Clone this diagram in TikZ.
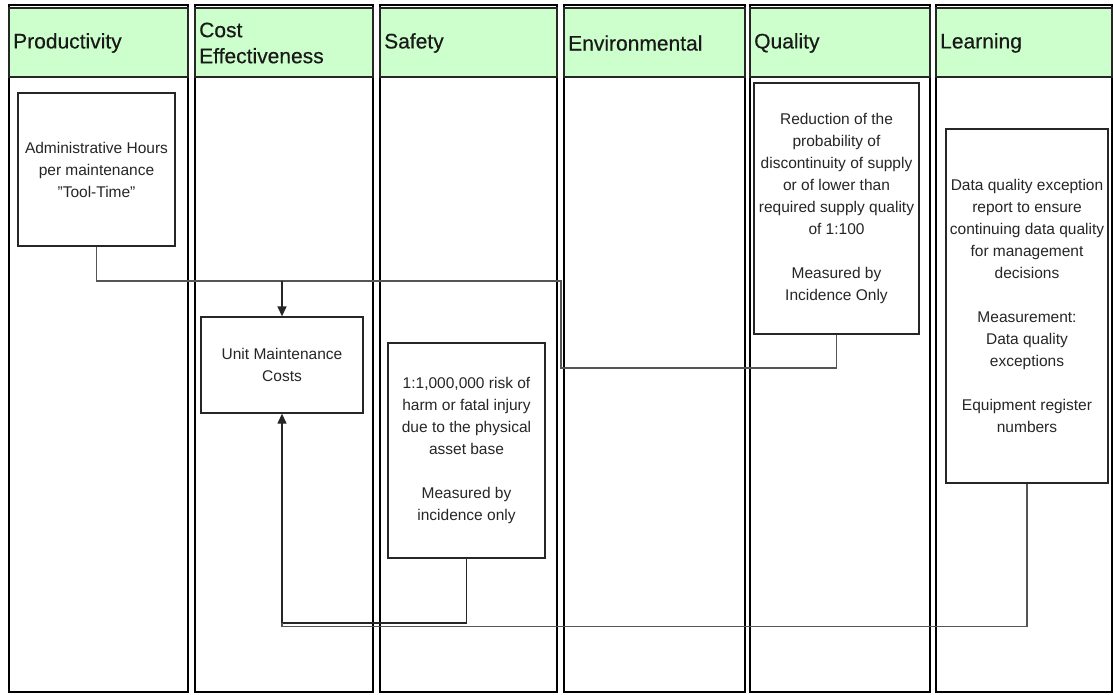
\documentclass[tikz,border=0pt]{standalone}
\usepackage{fontspec}
\setmainfont{Liberation Sans}[Ligatures=ResetAll]
\usetikzlibrary{arrows.meta}
\definecolor{hdrgreen}{RGB}{204,255,204}
\definecolor{linegray}{RGB}{85,85,85}
\begin{document}
\begin{tikzpicture}[x=1pt,y=-1pt,
  colbox/.style={draw=black, line width=1.2pt, inner sep=0pt},
  hdrbox/.style={draw=black!85, fill=hdrgreen, line width=1.8pt, inner sep=0pt},
  hdrtext/.style={anchor=west, align=left, inner sep=0pt, text=black!90,
    font=\fontsize{21}{26}\selectfont\addfontfeature{FakeBold=0.4}},
  itembox/.style={draw=black!85, line width=1.3pt, inner sep=0pt, align=center,
    text=black!85, font=\fontsize{15.5}{22}\selectfont},
  conn/.style={draw=linegray, line width=1.3pt},
  arr/.style={conn, draw=black!85, -{Triangle[length=10pt,width=9pt]}}
]
\useasboundingbox (0,0) rectangle (1113,694);
\fill[white] (0,0) rectangle (1113,694);

% columns (x ranges)
\foreach \n/\a/\b in {1/9/188, 2/195/373, 3/380/557, 4/564/745, 5/750/930, 6/936/1112}{
  \node[colbox, minimum width={\b-\a}, minimum height=687] (col\n) at ({(\a+\b)/2},348.5) {};
  \node[hdrbox, minimum width={\b-\a}, minimum height=69] (hdr\n) at ({(\a+\b)/2},42.5) {};
}
% header texts
\node[hdrtext] (h1) at (13,43) {Productivity};
\node[hdrtext] (h2) at (199,43) {Cost\\Effectiveness};
\node[hdrtext] (h3) at (384,43) {Safety};
\node[hdrtext] (h4) at (568,43) {Environmental};
\node[hdrtext] (h5) at (754,43) {Quality};
\node[hdrtext] (h6) at (940,43) {Learning};

% item boxes
\node[itembox, minimum width=157, minimum height=153] (admin) at (96.5,169.5)
  {Administrative Hours\\per maintenance\\"Tool-Time"};
\node[itembox, minimum width=162, minimum height=96] (unit) at (282,365)
  {Unit Maintenance\\Costs};
\node[itembox, minimum width=157, minimum height=215] (safety) at (466.5,450.5)
  {1:1,000,000 risk of\\harm or fatal injury\\due to the physical\\asset base\\[22pt]Measured by\\incidence only};
\node[itembox, minimum width=165, minimum height=251] (quality) at (836.5,208.5)
  {Reduction of the\\probability of\\discontinuity of supply\\or of lower than\\required supply quality\\of 1:100\\[22pt]Measured by\\Incidence Only};
\node[itembox, minimum width=162, minimum height=354] (learning) at (1027,306)
  {Data quality exception\\report to ensure\\continuing data quality\\for management\\decisions\\[22pt]Measurement:\\Data quality\\exceptions\\[22pt]Equipment register\\numbers};

% junction coordinates
\coordinate (top) at (282,281);
\coordinate (qbend) at (561,368);
\coordinate (bot) at (282,623);
\coordinate (bot2) at (282,626.5);

% connectors
\draw[conn] (quality.south) |- (qbend) |- (top);
\draw[conn] (admin.south) |- (top);
\draw[arr] (top) -- (unit.north);
\draw[conn, draw=black!85] (safety.south) |- (bot);
\draw[conn] (learning.south) |- (bot2) -- (bot);
\draw[arr] (bot) -- (unit.south);
\end{tikzpicture}
\end{document}
